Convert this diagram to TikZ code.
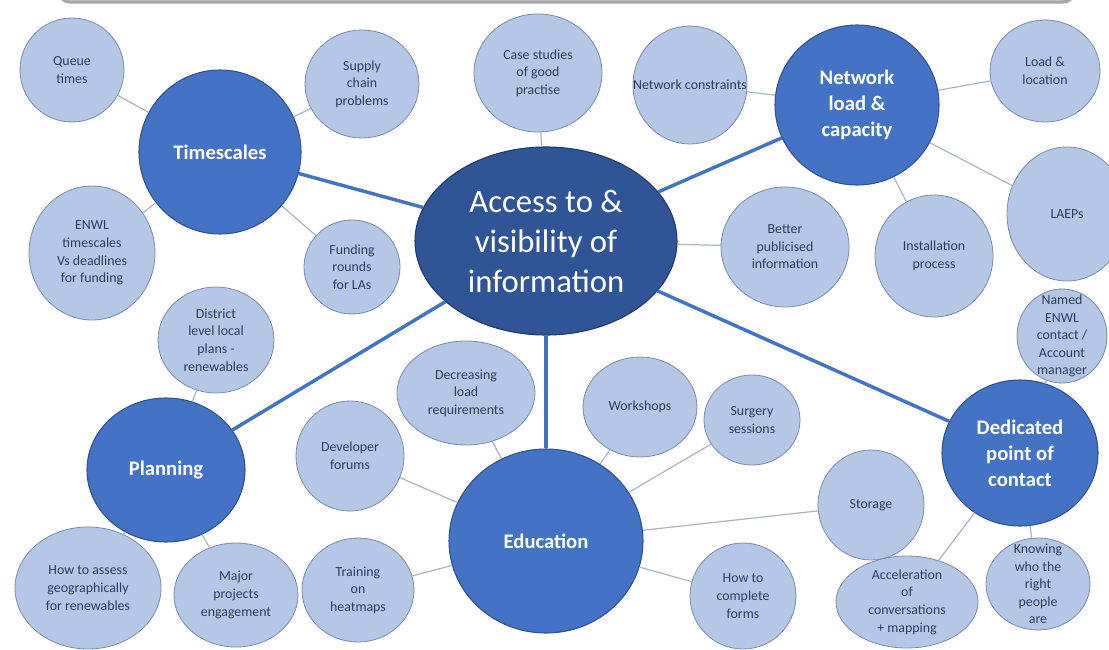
\documentclass[tikz,border=0pt]{standalone}
\usepackage{fontspec}
\setmainfont{Carlito}
\usetikzlibrary{shapes.geometric}

\definecolor{coreblue}{HTML}{2F5597}
\definecolor{coreline}{HTML}{203864}
\definecolor{hubblue}{HTML}{4472C4}
\definecolor{hubline}{HTML}{2F528F}
\definecolor{subblue}{HTML}{B4C7E7}
\definecolor{subline}{HTML}{7A8AA8}
\definecolor{subtext}{HTML}{2E3D5C}
\definecolor{thinlink}{HTML}{A7B3CA}

\tikzset{
	bub/.style args={#1/#2}{ellipse, minimum width=#1*0.75pt, minimum height=#2*0.75pt, inner sep=0pt},
}

\begin{document}
\begin{tikzpicture}[x=0.75pt,y=-0.75pt]
		\tikzstyle{core}=[draw=coreline,fill=coreblue,line width=0.8pt]
		\tikzstyle{hub}=[draw=hubline,fill=hubblue,line width=0.8pt]
		\tikzstyle{topic}=[draw=subline,fill=subblue,line width=0.6pt]
		\tikzstyle{coretext}=[text=white,align=center,font=\fontsize{24.5}{30}\selectfont]
		\tikzstyle{hubtext}=[text=white,align=center,font=\fontsize{15.5}{19.5}\selectfont\bfseries]
		\tikzstyle{topictext}=[text=subtext,align=center,font=\fontsize{10.4}{13.2}\selectfont]
		\tikzstyle{mainlink}=[draw=hubblue,line width=2.6pt]
		\tikzstyle{link}=[draw=thinlink,line width=0.9pt]

		\useasboundingbox (0,0) rectangle (1109,649);
		% grey bar cut off at the top
		\draw[draw=black!35,fill=black!6,line width=2.4pt,rounded corners=9pt] (58,-40) rectangle (1075,2);

		\begin{scope}
			% centre and hubs
			\node [core, bub=262/188, label={[coretext]center:{Access to \&\\visibility of\\information}}] (access) at (546,241) {};
			\node [hub, bub=162/164, label={[hubtext]center:{Timescales}}] (times) at (220,152) {};
			\node [hub, bub=164/160, label={[hubtext]center:{Network\\load \&\\capacity}}] (network) at (857,105) {};
			\node [hub, bub=158/144, label={[hubtext]center:{Planning}}] (planning) at (166,470) {};
			\node [hub, bub=194/184, label={[hubtext]center:{Education}}] (education) at (546,541) {};
			\node [hub, bub=156/146, label={[hubtext]center:{Dedicated\\point of\\contact}}] (contact) at (1020,453) {};

			% timescales
			\node [topic, bub=104/104, label={[topictext]center:{Queue\\times}}] (queue) at (72,70) {};
			\node [topic, bub=114/108, label={[topictext]center:{Supply\\chain\\problems}}] (supply) at (362,84) {};
			\node [topic, bub=126/134, label={[topictext]center:{ENWL\\timescales\\Vs deadlines\\for funding}}] (deadlines) at (92,253) {};
			\node [topic, bub=96/94, label={[topictext]center:{Funding\\rounds\\for LAs}}] (funding) at (352,267) {};

			% access
			\node [topic, bub=128/118, label={[topictext]center:{Case studies\\of good\\practise}}] (cases) at (538,73) {};
			\node [topic, bub=128/120, label={[topictext]center:{Better\\publicised\\information}}] (publicised) at (785,247) {};

			% network
			\node [topic, bub=114/118, label={[topictext]center:{Network constraints}}] (constraints) at (690,85) {};
			\node [topic, bub=110/102, label={[topictext]center:{Load \&\\location}}] (location) at (1045,71) {};
			\node [topic, bub=120/134, label={[topictext]center:{LAEPs}}] (laeps) at (1067,214) {};
			\node [topic, bub=118/122, label={[topictext]center:{Installation\\process}}] (install) at (934,256) {};

			% planning
			\node [topic, bub=116/106, label={[topictext]center:{District\\level local\\plans -\\renewables}}] (district) at (216,340) {};
			\node [topic, bub=146/122, label={[topictext]center:{How to assess\\geographically\\for renewables}}] (assess) at (88,588) {};
			\node [topic, bub=124/104, label={[topictext]center:{Major\\projects\\engagement}}] (major) at (236,595) {};

			% education
			\node [topic, bub=138/104, label={[topictext]center:{Decreasing\\load\\requirements}}] (decreasing) at (466,393) {};
			\node [topic, bub=108/110, label={[topictext]center:{Developer\\forums}}] (forums) at (350,456) {};
			\node [topic, bub=112/104, label={[topictext]center:{Training\\on\\heatmaps}}] (heatmaps) at (358,590) {};
			\node [topic, bub=114/100, label={[topictext]center:{Workshops}}] (workshops) at (640,407) {};
			\node [topic, bub=96/90, label={[topictext]center:{Surgery\\sessions}}] (surgery) at (752,420) {};
			\node [topic, bub=106/110, label={[topictext]center:{Storage}}] (storage) at (871,505) {};
			\node [topic, bub=106/106, label={[topictext]center:{How to\\complete\\forms}}] (forms) at (743,596) {};

			% contact
			\node [topic, bub=90/94, label={[topictext]center:{Named\\ENWL\\contact /\\Account\\manager}}] (named) at (1062,336) {};
			\node [topic, bub=142/92, label={[topictext]center:{Acceleration\\of\\conversations\\+ mapping}}] (acceleration) at (907,602) {};
			\node [topic, bub=104/92, label={[topictext]center:{Knowing\\who the\\right\\people\\are}}] (knowing) at (1038,584) {};

			\path[mainlink] (access) edge (times);
			\path[mainlink] (access) edge (network);
			\path[mainlink] (access) edge (planning);
			\path[mainlink] (access) edge (education);
			\path[mainlink] (access) edge (contact);

			\path[link] (queue) edge (times);
			\path[link] (supply) edge (times);
			\path[link] (deadlines) edge (times);
			\path[link] (funding) edge (times);
			\path[link] (cases) edge (access);
			\path[link] (publicised) edge (access);
			\path[link] (constraints) edge (network);
			\path[link] (location) edge (network);
			\path[link] (laeps) edge (network);
			\path[link] (install) edge (network);
			\path[link] (district) edge (planning);
			\path[link] (assess) edge (planning);
			\path[link] (major) edge (planning);
			\path[link] (decreasing) edge (education);
			\path[link] (forums) edge (education);
			\path[link] (heatmaps) edge (education);
			\path[link] (workshops) edge (education);
			\path[link] (surgery) edge (education);
			\path[link] (storage) edge (education);
			\path[link] (forms) edge (education);
			\path[link] (named) edge (contact);
			\path[link] (acceleration) edge (contact);
			\path[link] (knowing) edge (contact);
		\end{scope}
\end{tikzpicture}
\end{document}
